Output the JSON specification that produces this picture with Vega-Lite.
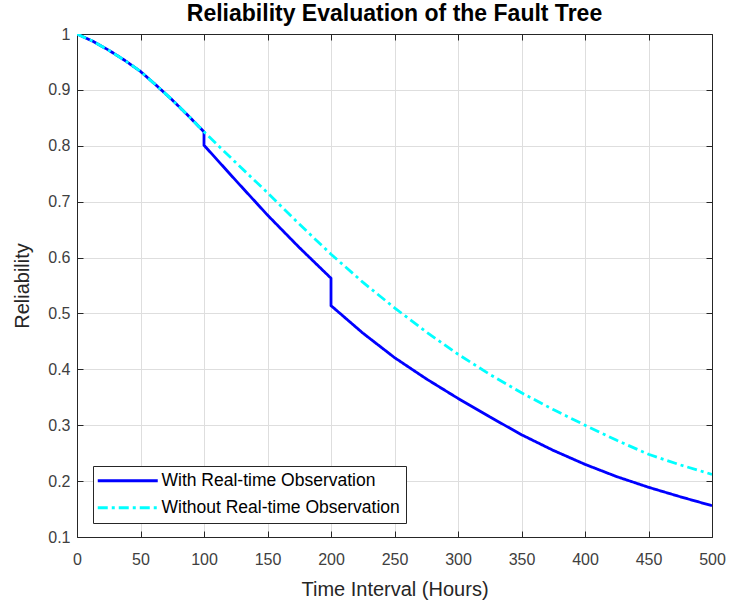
{
  "$schema": "https://vega.github.io/schema/vega-lite/v6.json",
  "width": 635,
  "height": 503,
  "autosize": "none",
  "padding": {"left": 77, "top": 34, "right": 18, "bottom": 66},
  "background": "white",
  "title": {
    "text": "Reliability Evaluation of the Fault Tree",
    "font": "Liberation Sans",
    "fontSize": 23,
    "fontWeight": "bold",
    "color": "black",
    "anchor": "middle",
    "offset": 0
  },
  "config": {
    "view": {"stroke": null},
    "axis": {
      "labelFont": "Liberation Sans",
      "labelFontSize": 16,
      "labelColor": "#404040",
      "titleFont": "Liberation Sans",
      "titleFontSize": 20,
      "titleFontWeight": "normal",
      "titleColor": "#262626",
      "domainColor": "#262626",
      "domainWidth": 1,
      "tickColor": "#262626",
      "tickSize": -6,
      "gridColor": "#dedede",
      "gridWidth": 1
    }
  },
  "data": {
    "values": [
      {"series": "With Real-time Observation", "k": 0, "t": 0, "r": 1.0},
      {"series": "With Real-time Observation", "k": 1, "t": 12.5, "r": 0.987},
      {"series": "With Real-time Observation", "k": 2, "t": 25, "r": 0.971},
      {"series": "With Real-time Observation", "k": 3, "t": 37.5, "r": 0.953},
      {"series": "With Real-time Observation", "k": 4, "t": 50, "r": 0.933},
      {"series": "With Real-time Observation", "k": 5, "t": 62.5, "r": 0.908},
      {"series": "With Real-time Observation", "k": 6, "t": 75, "r": 0.882},
      {"series": "With Real-time Observation", "k": 7, "t": 87.5, "r": 0.854},
      {"series": "With Real-time Observation", "k": 8, "t": 100, "r": 0.825},
      {"series": "With Real-time Observation", "k": 9, "t": 100, "r": 0.801},
      {"series": "With Real-time Observation", "k": 10, "t": 125, "r": 0.738},
      {"series": "With Real-time Observation", "k": 11, "t": 150, "r": 0.676},
      {"series": "With Real-time Observation", "k": 12, "t": 175, "r": 0.618},
      {"series": "With Real-time Observation", "k": 13, "t": 200, "r": 0.563},
      {"series": "With Real-time Observation", "k": 14, "t": 200, "r": 0.514},
      {"series": "With Real-time Observation", "k": 15, "t": 225, "r": 0.465},
      {"series": "With Real-time Observation", "k": 16, "t": 250, "r": 0.421},
      {"series": "With Real-time Observation", "k": 17, "t": 275, "r": 0.383},
      {"series": "With Real-time Observation", "k": 18, "t": 300, "r": 0.348},
      {"series": "With Real-time Observation", "k": 19, "t": 325, "r": 0.315},
      {"series": "With Real-time Observation", "k": 20, "t": 350, "r": 0.283},
      {"series": "With Real-time Observation", "k": 21, "t": 375, "r": 0.255},
      {"series": "With Real-time Observation", "k": 22, "t": 400, "r": 0.23},
      {"series": "With Real-time Observation", "k": 23, "t": 425, "r": 0.208},
      {"series": "With Real-time Observation", "k": 24, "t": 450, "r": 0.189},
      {"series": "With Real-time Observation", "k": 25, "t": 475, "r": 0.172},
      {"series": "With Real-time Observation", "k": 26, "t": 500, "r": 0.156},
      {"series": "Without Real-time Observation", "k": 0, "t": 0, "r": 1.0},
      {"series": "Without Real-time Observation", "k": 1, "t": 12.5, "r": 0.987},
      {"series": "Without Real-time Observation", "k": 2, "t": 25, "r": 0.971},
      {"series": "Without Real-time Observation", "k": 3, "t": 37.5, "r": 0.953},
      {"series": "Without Real-time Observation", "k": 4, "t": 50, "r": 0.933},
      {"series": "Without Real-time Observation", "k": 5, "t": 62.5, "r": 0.908},
      {"series": "Without Real-time Observation", "k": 6, "t": 75, "r": 0.882},
      {"series": "Without Real-time Observation", "k": 7, "t": 87.5, "r": 0.854},
      {"series": "Without Real-time Observation", "k": 8, "t": 100, "r": 0.825},
      {"series": "Without Real-time Observation", "k": 9, "t": 125, "r": 0.77},
      {"series": "Without Real-time Observation", "k": 10, "t": 150, "r": 0.716},
      {"series": "Without Real-time Observation", "k": 11, "t": 175, "r": 0.66},
      {"series": "Without Real-time Observation", "k": 12, "t": 200, "r": 0.606},
      {"series": "Without Real-time Observation", "k": 13, "t": 225, "r": 0.556},
      {"series": "Without Real-time Observation", "k": 14, "t": 250, "r": 0.51},
      {"series": "Without Real-time Observation", "k": 15, "t": 275, "r": 0.467},
      {"series": "Without Real-time Observation", "k": 16, "t": 300, "r": 0.427},
      {"series": "Without Real-time Observation", "k": 17, "t": 325, "r": 0.391},
      {"series": "Without Real-time Observation", "k": 18, "t": 350, "r": 0.358},
      {"series": "Without Real-time Observation", "k": 19, "t": 375, "r": 0.328},
      {"series": "Without Real-time Observation", "k": 20, "t": 400, "r": 0.3},
      {"series": "Without Real-time Observation", "k": 21, "t": 425, "r": 0.273},
      {"series": "Without Real-time Observation", "k": 22, "t": 450, "r": 0.248},
      {"series": "Without Real-time Observation", "k": 23, "t": 475, "r": 0.229},
      {"series": "Without Real-time Observation", "k": 24, "t": 500, "r": 0.212}
    ]
  },
  "layer": [
    {
      "mark": {"type": "line", "strokeWidth": 2.8, "clip": true},
      "encoding": {
        "x": {
          "field": "t",
          "type": "quantitative",
          "scale": {"domain": [0, 500], "nice": false, "zero": false},
          "axis": {
            "orient": "bottom",
            "values": [0, 50, 100, 150, 200, 250, 300, 350, 400, 450, 500],
            "title": "Time Interval (Hours)",
            "labelPadding": 20,
            "titlePadding": 12,
            "labelFlush": false
          }
        },
        "y": {
          "field": "r",
          "type": "quantitative",
          "scale": {"domain": [0.1, 1], "nice": false, "zero": false},
          "axis": {
            "orient": "left",
            "values": [0.1, 0.2, 0.3, 0.4, 0.5, 0.6, 0.7, 0.8, 0.9, 1],
            "format": "~g",
            "title": "Reliability",
            "labelPadding": 13,
            "titlePadding": 15,
            "labelFlush": false
          }
        },
        "color": {
          "field": "series",
          "type": "nominal",
          "scale": {
            "domain": ["With Real-time Observation", "Without Real-time Observation"],
            "range": ["#0000ff", "#00ffff"]
          },
          "legend": {
            "title": null,
            "orient": "none",
            "legendX": 16,
            "legendY": 432,
            "fillColor": "white",
            "strokeColor": "#262626",
            "padding": 6,
            "labelFont": "Liberation Sans",
            "labelFontSize": 17.5,
            "labelColor": "black",
            "labelLimit": 400,
            "symbolType": "M-6,0H6",
            "symbolSize": 100,
            "symbolStrokeWidth": 3,
            "symbolOffset": 20,
            "labelOffset": 25,
            "rowPadding": 8
          }
        },
        "strokeDash": {
          "field": "series",
          "type": "nominal",
          "scale": {
            "domain": ["With Real-time Observation", "Without Real-time Observation"],
            "range": [[1, 0], [10, 4, 3, 4]]
          },
          "legend": {
            "title": null,
            "orient": "none",
            "legendX": 16,
            "legendY": 432,
            "fillColor": "white",
            "strokeColor": "#262626",
            "padding": 6,
            "labelFont": "Liberation Sans",
            "labelFontSize": 17.5,
            "labelColor": "black",
            "labelLimit": 400,
            "symbolType": "M-6,0H6",
            "symbolSize": 100,
            "symbolStrokeWidth": 3,
            "symbolOffset": 20,
            "labelOffset": 25,
            "rowPadding": 8
          }
        },
        "order": {"field": "k", "type": "quantitative"}
      }
    },
    {
      "mark": {"type": "point", "opacity": 0},
      "encoding": {
        "x": {
          "field": "t",
          "type": "quantitative",
          "axis": {
            "orient": "top",
            "values": [0, 50, 100, 150, 200, 250, 300, 350, 400, 450, 500],
            "labels": false,
            "grid": false,
            "title": null
          }
        },
        "y": {
          "field": "r",
          "type": "quantitative",
          "axis": {
            "orient": "right",
            "values": [0.1, 0.2, 0.3, 0.4, 0.5, 0.6, 0.7, 0.8, 0.9, 1],
            "labels": false,
            "grid": false,
            "title": null
          }
        }
      }
    }
  ],
  "resolve": {"axis": {"x": "independent", "y": "independent"}}
}
